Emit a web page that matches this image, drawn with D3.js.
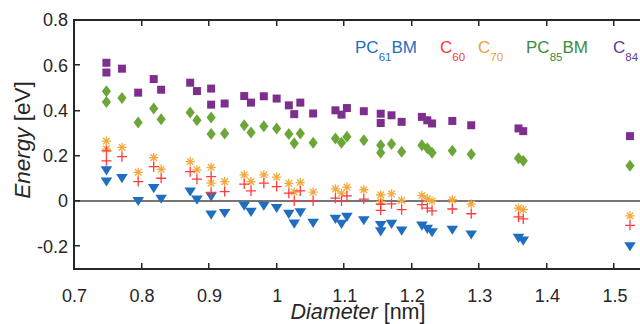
<!DOCTYPE html>
<html>
<head>
<meta charset="utf-8">
<script src="https://cdn.jsdelivr.net/npm/d3@7/dist/d3.min.js"></script>
<style>
  html, body { margin: 0; padding: 0; background: #fff; overflow: hidden; }
  svg { display: block; font-family: 'Liberation Sans', Arial, sans-serif; }
</style>
</head>
<body>
<div id="chart"></div>
<script>
// diameters in nm, one entry per molecule (some diameters have two isomers)
const diameters = [0.748, 0.748, 0.771, 0.795, 0.818, 0.829, 0.872, 0.882, 0.903, 0.903,
  0.923, 0.952, 0.962, 0.981, 1.000, 1.018, 1.026, 1.035, 1.054, 1.087, 1.096, 1.104,
  1.129, 1.154, 1.154, 1.170, 1.185, 1.215, 1.223, 1.230, 1.260, 1.288, 1.358, 1.365, 1.523];

// energies in eV for each acceptor
const pc61bm = [0.135, 0.086, 0.101, 0.000, 0.057, 0.010, 0.042, 0.006, 0.020, -0.060,
  -0.053, -0.021, -0.048, -0.021, -0.031, -0.057, -0.100, -0.050, -0.097, -0.079, -0.101, -0.070,
  -0.085, -0.107, -0.134, -0.101, -0.131, -0.109, -0.123, -0.138, -0.127, -0.148, -0.163, -0.175, -0.200];
const c60 = [0.222, 0.178, 0.196, 0.086, 0.152, 0.101, 0.130, 0.097, 0.108, 0.038,
  0.042, 0.075, 0.045, 0.079, 0.064, 0.035, 0.000, 0.045, 0.000, 0.013, 0.000, 0.023,
  0.009, -0.014, -0.041, -0.012, -0.038, -0.016, -0.031, -0.043, -0.035, -0.056, -0.070, -0.079, -0.107];
const c70 = [0.265, 0.230, 0.237, 0.127, 0.192, 0.141, 0.174, 0.138, 0.149, 0.079,
  0.086, 0.116, 0.086, 0.116, 0.106, 0.078, 0.040, 0.082, 0.040, 0.054, 0.035, 0.062,
  0.050, 0.028, -0.003, 0.032, 0.003, 0.025, 0.010, 0.000, 0.006, -0.013, -0.031, -0.038, -0.065];
const pc85bm = [0.485, 0.438, 0.455, 0.347, 0.409, 0.362, 0.391, 0.357, 0.369, 0.296,
  0.299, 0.335, 0.303, 0.331, 0.321, 0.296, 0.255, 0.299, 0.258, 0.277, 0.258, 0.284,
  0.269, 0.247, 0.214, 0.252, 0.218, 0.247, 0.233, 0.214, 0.222, 0.207, 0.189, 0.178, 0.156];
const c84 = [0.611, 0.568, 0.585, 0.479, 0.539, 0.492, 0.523, 0.486, 0.497, 0.426,
  0.431, 0.464, 0.435, 0.463, 0.453, 0.423, 0.384, 0.435, 0.387, 0.401, 0.382, 0.411,
  0.397, 0.386, 0.345, 0.379, 0.350, 0.372, 0.357, 0.343, 0.354, 0.335, 0.321, 0.309, 0.287];

// legend labels: [base, subscript, suffix]
const legendLabels = [['PC', '61', 'BM'], ['C', '60', ''], ['C', '70', ''], ['PC', '85', 'BM'], ['C', '84', '']];

const xTicks = [0.7, 0.8, 0.9, 1, 1.1, 1.2, 1.3, 1.4, 1.5];
const yTicks = [-0.2, 0, 0.2, 0.4, 0.6, 0.8];

const width = 640, height = 324;
const axisColor = '#262626';

const svg = d3.select('#chart').append('svg')
  .attr('width', width)
  .attr('height', height);

const x = d3.scaleLinear().domain([0.7, 1.6]).range([74, 682]);
const y = d3.scaleLinear().domain([-0.3, 0.8]).range([269, 20]);

// zero line, behind the markers
svg.append('rect')
  .attr('x', x(0.7)).attr('width', x(1.6) - x(0.7))
  .attr('y', Math.round(y(0)) - 1).attr('height', 2)
  .attr('fill', '#767676');

// marker shapes
const shapes = {
  square: 'M-4,-4H4V4H-4Z',
  diamond: 'M0,-6L4.6,0L0,6L-4.6,0Z',
  triangle: 'M-5.8,-4.2L5.8,-4.2L0,5Z',
  plus: 'M-5,0H5M0,-5V5',
  star: 'M-4.6,0H4.6M0,-4.6V4.6M-3.3,-3.3L3.3,3.3M-3.3,3.3L3.3,-3.3'
};

const series = [
  { values: pc61bm, shape: 'triangle', fill: '#1f6ebf', stroke: 'none' },
  { values: c70, shape: 'star', fill: 'none', stroke: '#f4a93c' },
  { values: c60, shape: 'plus', fill: 'none', stroke: '#ff3b3b' },
  { values: pc85bm, shape: 'diamond', fill: '#6ca637', stroke: 'none' },
  { values: c84, shape: 'square', fill: '#7e2f8e', stroke: 'none' }
];

series.forEach(s => {
  const pts = diameters.map((d, i) => ({ d: d, e: s.values[i] }));
  svg.append('g').selectAll('path')
    .data(pts)
    .enter().append('path')
    .attr('transform', p => `translate(${x(p.d)},${y(p.e)})`)
    .attr('d', shapes[s.shape])
    .attr('fill', s.fill)
    .attr('stroke', s.stroke)
    .attr('stroke-width', 1.3);
});

// tick labels from d3 axes
const fmt = d => String(d);

const gx = svg.append('g')
  .attr('transform', `translate(0,${y(-0.3)})`)
  .call(d3.axisBottom(x).tickValues(xTicks).tickFormat(fmt).tickSizeInner(0).tickSizeOuter(0).tickPadding(20));

const gy = svg.append('g')
  .attr('transform', `translate(${x(0.7)},0)`)
  .call(d3.axisLeft(y).tickValues(yTicks).tickFormat(fmt).tickSizeInner(0).tickSizeOuter(0).tickPadding(6));

[gx, gy].forEach(g => {
  g.select('.domain').remove();
  g.selectAll('.tick line').remove();
  g.selectAll('.tick text')
    .attr('fill', axisColor)
    .style('font-size', '18px')
    .style('font-family', "'Liberation Sans', Arial, sans-serif");
});

// box and inward tick marks (MATLAB style), pixel aligned
const lw = 2;
const frame = svg.append('g').attr('fill', axisColor);
const x0 = Math.round(x(0.7)), x1 = x(1.6), yb = Math.round(y(-0.3)), yt = Math.round(y(0.8));
frame.append('rect').attr('x', x0 - 1).attr('y', yt - 1).attr('width', lw).attr('height', yb - yt + lw);
frame.append('rect').attr('x', x0 - 1).attr('y', yb - 1).attr('width', x1 - x0).attr('height', lw);
frame.append('rect').attr('x', x0 - 1).attr('y', yt - 1).attr('width', x1 - x0).attr('height', lw);
frame.selectAll('.xb').data(xTicks).enter().append('rect')
  .attr('x', d => Math.round(x(d)) - 1).attr('y', yb - 6).attr('width', 1.5).attr('height', 6);
frame.selectAll('.xt').data(xTicks).enter().append('rect')
  .attr('x', d => Math.round(x(d)) - 1).attr('y', yt).attr('width', 1.5).attr('height', 6);
frame.selectAll('.yl').data(yTicks).enter().append('rect')
  .attr('x', x0).attr('y', d => Math.round(y(d)) - 1).attr('width', 6).attr('height', 1.5);

// axis titles
const xTitle = svg.append('text')
  .attr('x', 358)
  .attr('y', 319)
  .attr('text-anchor', 'middle')
  .attr('fill', axisColor)
  .style('font-size', '21.5px');
xTitle.append('tspan').style('font-style', 'italic').text('Diameter');
xTitle.append('tspan').text(' [nm]');

const yTitle = svg.append('text')
  .attr('transform', 'translate(30,140) rotate(-90)')
  .attr('text-anchor', 'middle')
  .attr('fill', axisColor)
  .style('font-size', '22.5px');
yTitle.append('tspan').style('font-style', 'italic').text('Energy');
yTitle.append('tspan').text(' [eV]');

// legend as coloured labels
const legendColors = ['#1f6ebf', '#f23b3b', '#eba040', '#3c8c3c', '#5b3c9e'];
const legendX = [355, 440, 478, 526, 613];

legendLabels.forEach((parts, i) => {
  const t = svg.append('text')
    .attr('x', legendX[i])
    .attr('y', 53)
    .attr('fill', legendColors[i])
    .style('font-size', '17px');
  t.append('tspan').text(parts[0]);
  t.append('tspan').attr('dy', 8).style('font-size', '11.5px').text(parts[1]);
  if (parts[2]) t.append('tspan').attr('dy', -8).text(parts[2]);
});
</script>
</body>
</html>
